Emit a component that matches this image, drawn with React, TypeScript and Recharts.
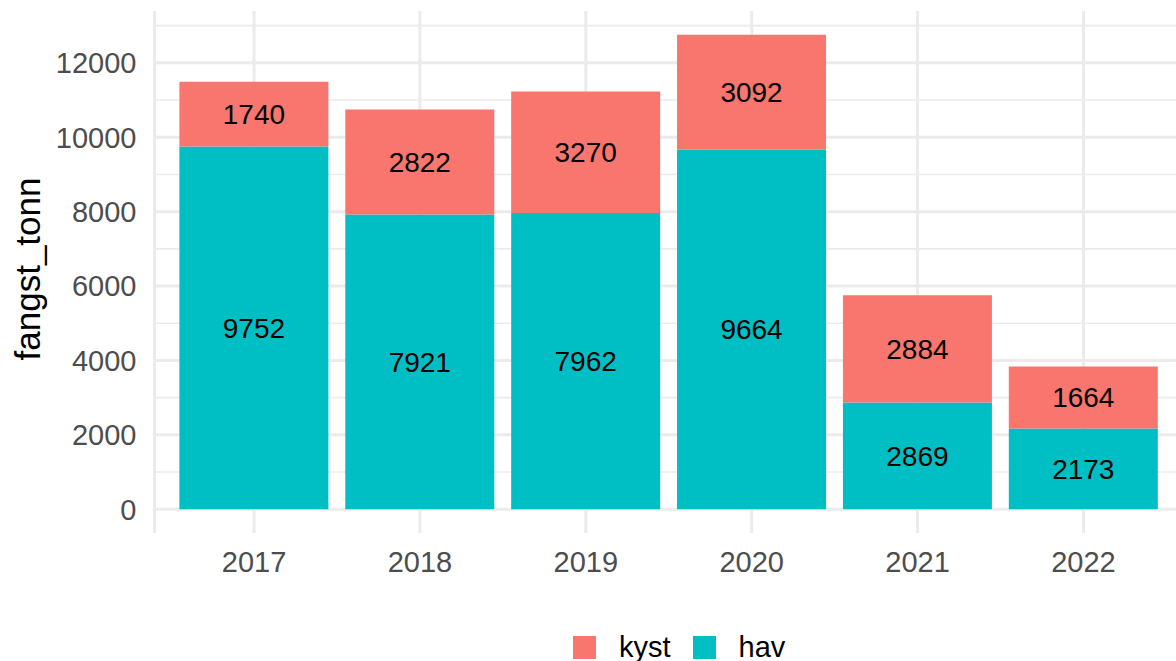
import { BarChart, Bar, XAxis, YAxis, CartesianGrid, LabelList, Label } from "recharts";

const years = ["2017", "2018", "2019", "2020", "2021", "2022"];
const hav = [9752, 7921, 7962, 9664, 2869, 2173];
const kyst = [1740, 2822, 3270, 3092, 2884, 1664];
const majorTicks = [0, 2000, 4000, 6000, 8000, 10000, 12000];
const minorTicks = [1000, 3000, 5000, 7000, 9000, 11000, 13000];

const series = [
  { key: "kyst", color: "#F8766D" },
  { key: "hav", color: "#00BFC4" }
];

const FONT = "'Liberation Sans', Arial, Helvetica, sans-serif";
const GRID = "#EBEBEB";

const data = years.map((year, i) => ({ year, hav: hav[i], kyst: kyst[i] }));

// ggplot pads the scale 5% beyond the tallest stack
const maxTotal = Math.max(...data.map((d) => d.hav + d.kyst));
const yDomain = [-0.05 * maxTotal, 1.05 * maxTotal];

function LegendBox() {
  return (
    <div
      style={{
        position: "absolute",
        top: 636,
        left: 573,
        display: "flex",
        alignItems: "center",
        fontFamily: FONT,
        fontSize: 29,
        color: "#000"
      }}
    >
      {series.map((s, i) => (
        <div key={s.key} style={{ display: "flex", alignItems: "center", marginLeft: i === 0 ? 0 : 22 }}>
          <span style={{ width: 23, height: 23, background: s.color, display: "inline-block", marginRight: 23 }} />
          <span style={{ lineHeight: "23px" }}>{s.key}</span>
        </div>
      ))}
    </div>
  );
}

export default function App() {
  return (
    <div style={{ position: "absolute", top: 0, left: 0, width: 1176, height: 661, overflow: "hidden", background: "#fff" }}>
      <BarChart
        width={1183}
        height={661}
        data={data}
        margin={{ top: 11, right: 0, left: 0, bottom: 0 }}
        barCategoryGap="5%"
      >
        <CartesianGrid horizontal={false} stroke={GRID} strokeWidth={3} />
        <CartesianGrid vertical={false} horizontalValues={minorTicks} stroke={GRID} strokeWidth={1.6} />
        <CartesianGrid vertical={false} horizontalValues={majorTicks} stroke={GRID} strokeWidth={3} />
        <XAxis
          dataKey="year"
          axisLine={false}
          tickLine={false}
          tickSize={0}
          tickMargin={18}
          height={128}
          padding={{ left: 16.6, right: 16.6 }}
          tick={{ fill: "#4D4D4D", fontSize: 29, fontFamily: FONT }}
        />
        <YAxis
          type="number"
          domain={yDomain}
          allowDataOverflow
          ticks={majorTicks}
          axisLine={false}
          tickLine={false}
          tickSize={0}
          tickMargin={18}
          width={154.5}
          tick={{ fill: "#4D4D4D", fontSize: 29, fontFamily: FONT }}
        >
          <Label
            content={() => (
              <text
                x={27}
                y={269}
                transform="rotate(-90 27 269)"
                textAnchor="middle"
                dominantBaseline="central"
                fontSize={35}
                fontFamily={FONT}
                fill="#000"
              >
                fangst_tonn
              </text>
            )}
          />
        </YAxis>
        <Bar dataKey="hav" stackId="a" fill="#00BFC4" isAnimationActive={false}>
          <LabelList dataKey="hav" position="center" fill="#000" fontSize={28} fontFamily={FONT} />
        </Bar>
        <Bar dataKey="kyst" stackId="a" fill="#F8766D" isAnimationActive={false}>
          <LabelList dataKey="kyst" position="center" fill="#000" fontSize={28} fontFamily={FONT} />
        </Bar>
      </BarChart>
      <LegendBox />
    </div>
  );
}
